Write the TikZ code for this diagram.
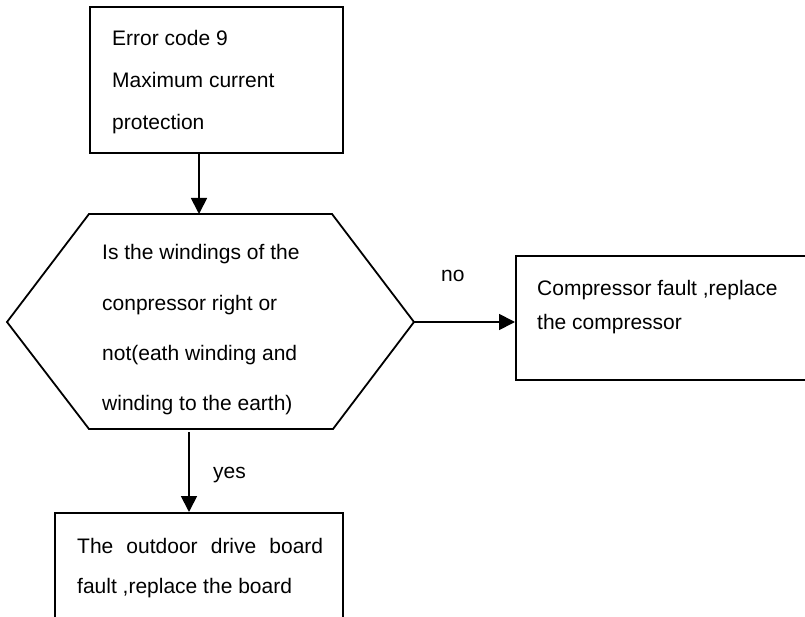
\documentclass[tikz,border=0pt]{standalone}
\usepackage{fontspec}
\setmainfont{Liberation Sans}
\usetikzlibrary{arrows.meta}
\tikzset{
  boxshape/.style={draw, line width=2pt, inner sep=0pt, minimum width=#1},
  hexline/.style={draw, line width=1.8pt, line join=miter},
  arr/.style={line width=1.8pt, -{Triangle[length=16pt,width=16pt]}},
  txt/.style={anchor=base west, inner sep=0pt, font=\fontsize{21}{25}\selectfont},
}
\begin{document}
\begin{tikzpicture}[x=1pt,y=-1pt]
\useasboundingbox (0,0) rectangle (805,617);
\clip (0,0) rectangle (805,617);
% boxes
\node[boxshape=253pt, minimum height=146pt] (top) at (216.5,80) {};
\node[boxshape=314pt, minimum height=124pt] (rbox) at (673,318) {};
\node[boxshape=288pt, minimum height=127pt] (bbox) at (199,576.5) {};
% hexagon
\coordinate (h1) at (89,214);
\coordinate (h2) at (332,214);
\coordinate (hexR) at (414,322);
\coordinate (h4) at (333,429);
\coordinate (h5) at (89,429);
\coordinate (hexL) at (7,322);
\draw[hexline] (h1) -- (h2) -- (hexR) -- (h4) -- (h5) -- (hexL) -- cycle;
\coordinate (hexTop) at (199,214);
\coordinate (hexBot) at (189,432);
% texts
\node[txt] (t1) at (112,46) {Error code 9};
\node[txt] (t2) at (112,88) {Maximum current};
\node[txt] (t3) at (112,130) {protection};
\node[txt] (q1) at (102,260) {Is the windings of the};
\node[txt] (q2) at (102,310) {conpressor right or};
\node[txt] (q3) at (102,360) {not(eath winding and};
\node[txt] (q4) at (102,410) {winding to the earth)};
\node[txt] (r1) at (537,295) {Compressor fault ,replace};
\node[txt] (r2) at (537,330) {the compressor};
\node[txt] (b1) at (77,553) {\makebox[246pt][s]{The outdoor drive board}};
\node[txt] (b2) at (77,593) {fault ,replace the board};
\node[txt] (no) at (441,282) {no};
\node[txt] (yes) at (213,478) {yes};
% connectors
\draw[arr] (top.south -| hexTop) -- (hexTop);
\draw[arr] (hexR) -- (rbox.west |- hexR);
\draw[arr] (hexBot) -- (bbox.north -| hexBot);
\end{tikzpicture}
\end{document}
